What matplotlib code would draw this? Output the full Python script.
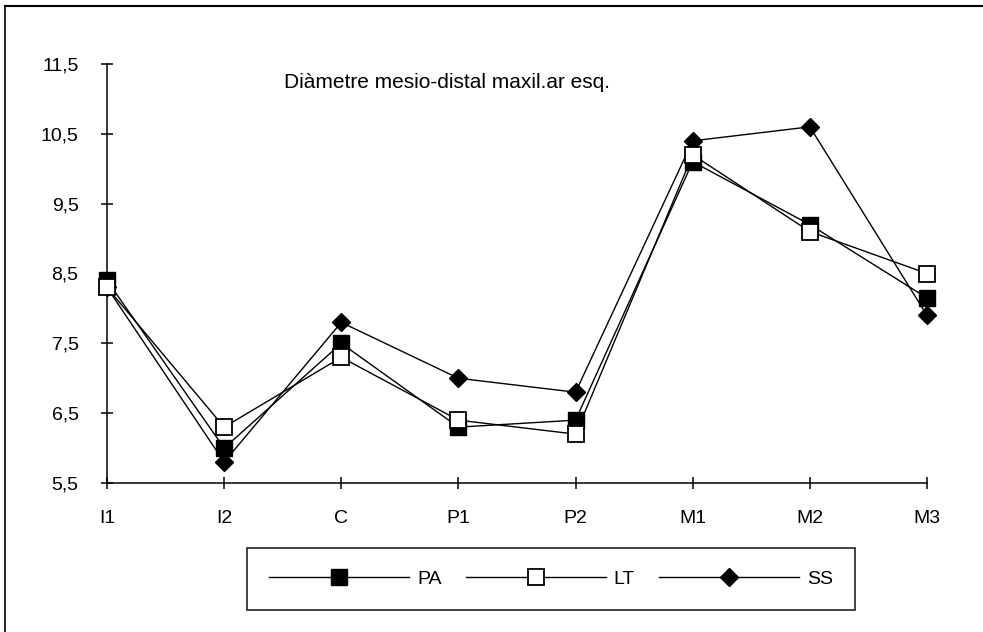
import matplotlib
matplotlib.use("Agg")
import matplotlib.pyplot as plt
from matplotlib.lines import Line2D

categories = ["I1", "I2", "C", "P1", "P2", "M1", "M2", "M3"]
pa = [8.4, 6.0, 7.5, 6.3, 6.4, 10.1, 9.2, 8.15]
lt = [8.3, 6.3, 7.3, 6.4, 6.2, 10.2, 9.1, 8.5]
ss = [8.3, 5.8, 7.8, 7.0, 6.8, 10.4, 10.6, 7.9]
yticks = [5.5, 6.5, 7.5, 8.5, 9.5, 10.5, 11.5]
ytick_labels = ["5,5", "6,5", "7,5", "8,5", "9,5", "10,5", "11,5"]
title = "Diàmetre mesio-distal maxil.ar esq."

plt.rcParams['font.family'] = ['Liberation Sans', 'DejaVu Sans']

fig = plt.figure(figsize=(9.83, 6.32), dpi=100)
ax = fig.add_axes([107/983, 1-483/632, (927-107)/983, 419/632])

x = list(range(len(categories)))
lw = 1.0
ax.plot(x, pa, color='black', lw=lw, marker='s', ms=11, mfc='black', mec='black', zorder=3, clip_on=False)
ax.plot(x, ss, color='black', lw=lw, marker='D', ms=9.5, mfc='black', mec='black', zorder=4, clip_on=False)
ax.plot(x, lt, color='black', lw=lw, marker='s', ms=11.5, mfc='white', mec='black', mew=1.3, zorder=5, clip_on=False)

ax.set_xlim(0, len(categories)-1)
ax.set_ylim(5.5, 11.5)
ax.set_xticks(x)
ax.set_xticklabels(categories)
ax.set_yticks(yticks)
ax.set_yticklabels(ytick_labels)
for s in ['top', 'right']:
    ax.spines[s].set_visible(False)
for s in ['left', 'bottom']:
    ax.spines[s].set_linewidth(1.1)
ax.tick_params(axis='both', direction='inout', length=9, width=1.1, labelsize=14)
ax.tick_params(axis='y', pad=16)
ax.tick_params(axis='x', pad=15)

ax.text(0.216, 0.955, title, transform=ax.transAxes, fontsize=15, ha='left', va='center')

# outer frame lines
fig.add_artist(Line2D([5/983, 5/983], [0, 1-6/632], transform=fig.transFigure, color='black', lw=1.2))
fig.add_artist(Line2D([5/983, 1], [1-6/632, 1-6/632], transform=fig.transFigure, color='black', lw=1.5))

handles = [
    Line2D([], [], color='black', lw=lw, marker='s', ms=11, mfc='black', mec='black'),
    Line2D([], [], color='black', lw=lw, marker='s', ms=11.5, mfc='white', mec='black', mew=1.3),
    Line2D([], [], color='black', lw=lw, marker='D', ms=9.5, mfc='black', mec='black'),
]
leg = fig.legend(handles, ['PA', 'LT', 'SS'], loc='center', bbox_to_anchor=(551/983, 1-579/632),
                 ncol=3, frameon=True, fancybox=False, edgecolor='black', fontsize=14,
                 handlelength=7.2, handletextpad=0.4, columnspacing=1.25, borderpad=1.15)
leg.get_frame().set_linewidth(1.3)

fig.savefig("out.png", dpi=100)
